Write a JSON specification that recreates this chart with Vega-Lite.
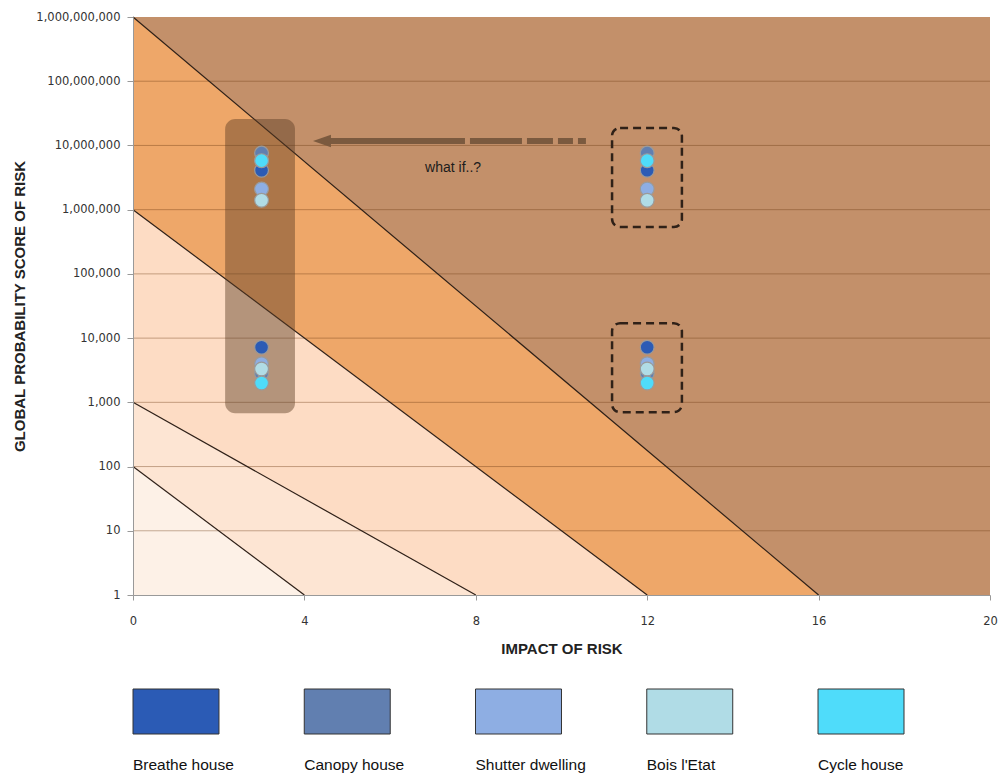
{
  "$schema": "https://vega.github.io/schema/vega-lite/v6.json",
  "background": "white",
  "padding": {"left": 12, "top": 11, "right": 5, "bottom": 5},
  "config": {"view": {"stroke": null}, "font": "Liberation Sans"},
  "spacing": 31,
  "resolve": {"scale": {"x": "independent", "y": "independent"}},
  "datasets": {
    "zones": [
      {"zone": "very high", "impact": 0, "score": 1000000000},
      {"zone": "very high", "impact": 20, "score": 1000000000},
      {"zone": "high", "impact": 0, "score": 1000000000},
      {"zone": "high", "impact": 16, "score": 1},
      {"zone": "medium", "impact": 0, "score": 1000000},
      {"zone": "medium", "impact": 12, "score": 1},
      {"zone": "low", "impact": 0, "score": 1000},
      {"zone": "low", "impact": 8, "score": 1},
      {"zone": "very low", "impact": 0, "score": 100},
      {"zone": "very low", "impact": 4, "score": 1}
    ],
    "grid": [
      {"score": 10}, {"score": 100}, {"score": 1000}, {"score": 10000},
      {"score": 100000}, {"score": 1000000}, {"score": 10000000}, {"score": 100000000}
    ],
    "boxes": [
      {"box": "current", "impact": 2.15, "impact2": 3.78, "score": 679, "score2": 25800000},
      {"box": "scenario high", "impact": 11.18, "impact2": 12.81, "score": 536000, "score2": 18700000},
      {"box": "scenario low", "impact": 11.18, "impact2": 12.81, "score": 703, "score2": 17100}
    ],
    "risks": [
      {"house": "Breathe house", "impact": 3, "score": 4100000},
      {"house": "Breathe house", "impact": 3, "score": 7200},
      {"house": "Canopy house", "impact": 3, "score": 7600000},
      {"house": "Canopy house", "impact": 3, "score": 2800},
      {"house": "Shutter dwelling", "impact": 3, "score": 2100000},
      {"house": "Shutter dwelling", "impact": 3, "score": 4000},
      {"house": "Bois l'Etat", "impact": 3, "score": 1400000},
      {"house": "Bois l'Etat", "impact": 3, "score": 3300},
      {"house": "Cycle house", "impact": 3, "score": 5800000},
      {"house": "Cycle house", "impact": 3, "score": 2000},
      {"house": "Breathe house", "impact": 12, "score": 4100000},
      {"house": "Breathe house", "impact": 12, "score": 7200},
      {"house": "Canopy house", "impact": 12, "score": 7600000},
      {"house": "Canopy house", "impact": 12, "score": 2800},
      {"house": "Shutter dwelling", "impact": 12, "score": 2100000},
      {"house": "Shutter dwelling", "impact": 12, "score": 4000},
      {"house": "Bois l'Etat", "impact": 12, "score": 1400000},
      {"house": "Bois l'Etat", "impact": 12, "score": 3300},
      {"house": "Cycle house", "impact": 12, "score": 5800000},
      {"house": "Cycle house", "impact": 12, "score": 2000}
    ],
    "arrow": [{"impact": 4.41, "impact2": 10.57, "score": 11700000}],
    "notes": [{"note": "what if..?", "impact": 7.47, "score": 4450000}],
    "houses": [
      {"house": "Breathe house"}, {"house": "Canopy house"}, {"house": "Shutter dwelling"},
      {"house": "Bois l'Etat"}, {"house": "Cycle house"}
    ]
  },
  "vconcat": [
    {
      "width": 857,
      "height": 578,
      "encoding": {
        "x": {"field": "impact", "type": "quantitative",
          "scale": {"domain": [0, 20], "nice": false, "zero": false},
          "axis": {"title": "IMPACT OF RISK", "values": [0, 4, 8, 12, 16, 20], "grid": false,
            "zindex": 1, "tickSize": 5, "labelPadding": 15, "labelFont": "DejaVu Sans",
            "labelFontSize": 11.5, "labelColor": "#333", "domainColor": "#999", "tickColor": "#999",
            "labelFlush": false, "titlePadding": 15, "titleFont": "Liberation Sans",
            "titleFontSize": 15, "titleFontWeight": "bold", "titleColor": "#222"}},
        "y": {"field": "score", "type": "quantitative",
          "scale": {"type": "log", "domain": [1, 1000000000], "nice": false},
          "axis": {"title": "GLOBAL PROBABILITY SCORE OF RISK",
            "values": [1, 10, 100, 1000, 10000, 100000, 1000000, 10000000, 100000000, 1000000000],
            "format": ",", "grid": false, "zindex": 1, "tickSize": 6, "labelPadding": 7,
            "labelFont": "DejaVu Sans", "labelFontSize": 11.5, "labelColor": "#333",
            "labelOverlap": false, "domainColor": "#999", "tickColor": "#999",
            "titlePadding": 8, "titleFont": "Liberation Sans", "titleFontSize": 15,
            "titleFontWeight": "bold", "titleColor": "#222"}}
      },
      "layer": [
        {
          "data": {"name": "zones"},
          "transform": [{"filter": "datum.zone === 'very high'"}],
          "mark": {"type": "area", "color": "#c3906a"},
          "encoding": {"y": {"field": "score", "type": "quantitative", "stack": null}, "y2": {"datum": 1}}
        },
        {
          "data": {"name": "zones"},
          "transform": [{"filter": "datum.zone === 'high'"}],
          "mark": {"type": "area", "color": "#eea769"},
          "encoding": {"y": {"field": "score", "type": "quantitative", "stack": null}, "y2": {"datum": 1}}
        },
        {
          "data": {"name": "zones"},
          "transform": [{"filter": "datum.zone === 'medium'"}],
          "mark": {"type": "area", "color": "#fddcc4"},
          "encoding": {"y": {"field": "score", "type": "quantitative", "stack": null}, "y2": {"datum": 1}}
        },
        {
          "data": {"name": "zones"},
          "transform": [{"filter": "datum.zone === 'low'"}],
          "mark": {"type": "area", "color": "#fde5d3"},
          "encoding": {"y": {"field": "score", "type": "quantitative", "stack": null}, "y2": {"datum": 1}}
        },
        {
          "data": {"name": "zones"},
          "transform": [{"filter": "datum.zone === 'very low'"}],
          "mark": {"type": "area", "color": "#fdf1e7"},
          "encoding": {"y": {"field": "score", "type": "quantitative", "stack": null}, "y2": {"datum": 1}}
        },
        {
          "data": {"name": "grid"},
          "mark": {"type": "rule", "color": "#6e3c14", "opacity": 0.4, "strokeWidth": 1},
          "encoding": {"x": null}
        },
        {
          "data": {"name": "zones"},
          "transform": [{"filter": "datum.zone !== 'very high'"}],
          "mark": {"type": "line", "color": "#2e2018", "strokeWidth": 1.2},
          "encoding": {"detail": {"field": "zone"}}
        },
        {
          "data": {"name": "boxes"},
          "transform": [{"filter": "datum.box === 'current'"}],
          "mark": {"type": "rect", "color": "#5a3c24", "opacity": 0.45, "cornerRadius": 10},
          "encoding": {"x2": {"field": "impact2"}, "y2": {"field": "score2"}}
        },
        {
          "data": {"name": "risks"},
          "mark": {"type": "point", "filled": true, "size": 190, "opacity": 1, "stroke": "#9a9a9a", "strokeWidth": 1.2},
          "encoding": {
            "color": {"field": "house", "type": "nominal",
              "scale": {"domain": ["Breathe house", "Canopy house", "Shutter dwelling", "Bois l'Etat", "Cycle house"],
                "range": ["#2b5bb5", "#617fb0", "#8eaee3", "#b0dce6", "#4fdcfa"]},
              "legend": null}
          }
        },
        {
          "data": {"name": "boxes"},
          "transform": [{"filter": "datum.box !== 'current'"}],
          "mark": {"type": "rect", "fill": null, "fillOpacity": 0, "stroke": "#2f2118", "strokeWidth": 2.5, "strokeDash": [8, 5], "cornerRadius": 8},
          "encoding": {"x2": {"field": "impact2"}, "y2": {"field": "score2"}}
        },
        {
          "data": {"name": "arrow"},
          "mark": {"type": "rule", "color": "#7b5a3f", "strokeWidth": 6, "strokeDash": [143, 5, 52, 5, 26, 5, 15, 5, 8, 300]},
          "encoding": {"x2": {"field": "impact2"}}
        },
        {
          "data": {"name": "arrow"},
          "mark": {"type": "point", "filled": true, "shape": "M-1,0L1,-0.7L1,0.7Z", "size": 324, "color": "#7b5a3f", "opacity": 1}
        },
        {
          "data": {"name": "notes"},
          "mark": {"type": "text", "fontSize": 14, "color": "#1c1c1c", "font": "Liberation Sans"},
          "encoding": {"text": {"field": "note"}}
        }
      ]
    },
    {
      "width": 771,
      "height": 45,
      "data": {"name": "houses"},
      "mark": {"type": "rect", "stroke": "#333", "strokeWidth": 1},
      "encoding": {
        "x": {"field": "house", "type": "nominal", "sort": null,
          "scale": {"paddingInner": 0.498, "paddingOuter": 0},
          "axis": {"title": null, "orient": "bottom", "domain": false, "ticks": false, "tickSize": 0,
            "labelAlign": "left", "labelOffset": -43, "labelPadding": 23, "labelFontSize": 15.5,
            "labelColor": "#111", "labelFont": "Liberation Sans", "labelAngle": 0,
            "labelOverlap": false, "labelLimit": 0}},
        "color": {"field": "house", "type": "nominal",
          "scale": {"domain": ["Breathe house", "Canopy house", "Shutter dwelling", "Bois l'Etat", "Cycle house"],
            "range": ["#2b5bb5", "#617fb0", "#8eaee3", "#b0dce6", "#4fdcfa"]},
          "legend": null}
      }
    }
  ]
}
